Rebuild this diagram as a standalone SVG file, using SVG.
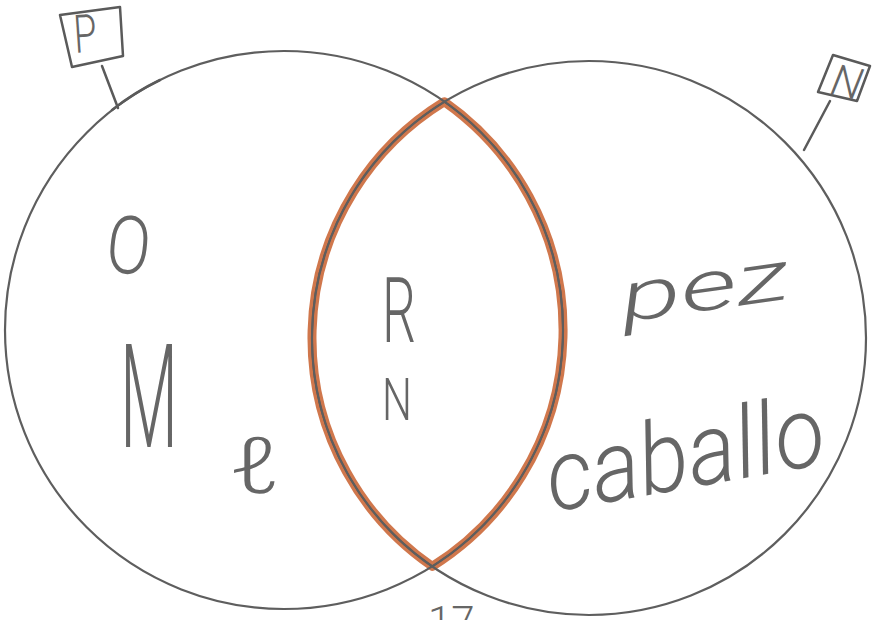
<svg xmlns="http://www.w3.org/2000/svg" width="873" height="620" viewBox="0 0 873 620">
<style>
.circ{fill:none;stroke:#5e5e5e;stroke-width:2.2}
.lens{fill:none;stroke:#c85f2d;stroke-width:9;stroke-linejoin:round;opacity:0.85}
.lensin{fill:none;stroke:#555;stroke-width:1.8}
.pen{fill:none;stroke:#5a5a5a;stroke-width:2.5;stroke-linecap:round;stroke-linejoin:round}
.hand{font-family:Roboto,"DejaVu Sans",sans-serif;font-weight:300;fill:#666}
.cur{font-family:Roboto,"DejaVu Sans",sans-serif;font-weight:300;font-style:italic;fill:#666}
</style>
<rect width="873" height="620" fill="#ffffff"/>
<g id="connectors">
<path class="pen" d="M102,66 L118,108"/>
<path class="pen" d="M830,101 L804,150"/>
</g>
<g id="intersection">
<path class="lens" d="M444.4,101.7 A279,279 0 0 1 432.3,566.4 A277,277 0 0 1 444.4,101.7 Z"/>
<path class="lensin" d="M444.4,101.7 A279,279 0 0 1 432.3,566.4 A277,277 0 0 1 444.4,101.7 Z"/>
<text class="hand" font-size="56" textLength="34" lengthAdjust="spacingAndGlyphs" transform="translate(382,342) scale(1,1.63)">R</text>
<text class="hand" font-size="44" textLength="30" lengthAdjust="spacingAndGlyphs" transform="translate(382,420) scale(1,1.35)">N</text>
</g>
<g id="setP">
<circle class="circ" cx="284" cy="330" r="279"/>
<path class="pen" d="M112,110 Q135,92 160,80" stroke-width="3"/>
<text class="hand" font-size="62" textLength="44" lengthAdjust="spacingAndGlyphs" transform="translate(104,271) rotate(6) scale(1,1.3)">O</text>
<text class="hand" font-size="66" textLength="58" lengthAdjust="spacingAndGlyphs" transform="translate(120,447) scale(1,2.2)">M</text>
<text class="hand" font-size="78" style="font-family:'Noto Sans','DejaVu Sans',sans-serif;font-weight:300" textLength="34" lengthAdjust="spacingAndGlyphs" transform="translate(228,493) scale(1.6,1)">ℓ</text>
</g>
<g id="labelP">
<path class="pen" d="M60,15 L120,7 L123,56 L72,67 Z"/>
<text class="hand" font-size="38" textLength="23" lengthAdjust="spacingAndGlyphs" transform="translate(75,53) rotate(-4) scale(1,1.4)">P</text>
</g>
<g id="setN">
<circle class="circ" cx="589" cy="338" r="277"/>
<text class="cur" font-size="70" textLength="113" lengthAdjust="spacingAndGlyphs" transform="translate(624,322) rotate(-8) scale(1.5,1)">pez</text>
<text class="cur" font-size="100" textLength="320" lengthAdjust="spacingAndGlyphs" transform="translate(552,512) rotate(-10) scale(0.88,1)">caballo</text>
</g>
<g id="labelN">
<path class="pen" d="M833,55 L870,66 L857,101 L818,92 Z"/>
<text class="cur" font-size="40" textLength="30" lengthAdjust="spacingAndGlyphs" transform="translate(829,94) rotate(12) scale(1,1.1)">N</text>
</g>
<text class="hand" x="428" y="636" font-size="42">17</text>
</svg>
